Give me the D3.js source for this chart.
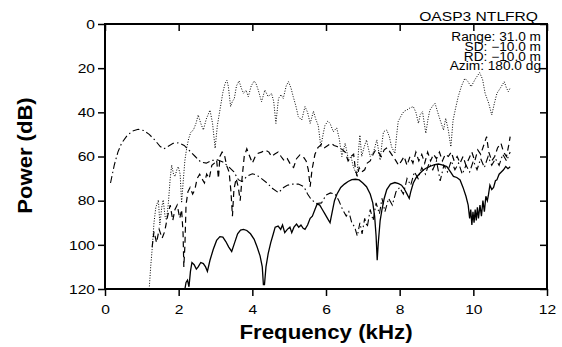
<!DOCTYPE html>
<html>
<head>
<meta charset="utf-8">
<script src="https://cdn.jsdelivr.net/npm/d3@7"></script>
<style>
	body { margin: 0; background: #fff; }
	text { font-family: 'Liberation Sans', Arial, sans-serif; fill: #000; }
</style>
</head>
<body>
<div id="chart"></div>
<script>
// frequency (kHz), power (dB)
const xTicks = [0, 2, 4, 6, 8, 10, 12];
const yTicks = [0, 20, 40, 60, 80, 100, 120];
const infoLines = ['Range: 31.0 m', 'SD: \u221210.0 m', 'RD: \u221210.0 m', 'Azim: 180.0 dg'];

const dashDot = [[0.15,72],[0.25,64],[0.35,58],[0.45,54],[0.6,50.5],[0.75,48.5],[0.9,47.7],[1.05,48.2],[1.2,50],[1.35,52.5],
	[1.5,55.5],[1.6,56.5],[1.7,55.5],[1.85,54],[2.0,53.8],[2.15,55],[2.3,57.5],[2.45,60],[2.6,62.5],[2.75,63],[2.9,61.8],
	[3.05,61.5],[3.2,62.5],[3.35,64.5],[3.5,67],[3.62,70.5],[3.72,71.4],[3.85,69],[4.0,67.8],[4.12,68.4],[4.25,70],[4.4,72],
	[4.55,74.5],[4.71,76.4],[4.85,74],[4.95,73],[5.1,72.5],[5.25,72.5],[5.4,73.7],[5.5,77],[5.6,79.5],[5.75,81.3],[5.88,81],
	[6.0,77.5],[6.12,76.5],[6.25,77],[6.35,80],[6.45,84],[6.55,87],[6.62,85],[6.7,90],[6.78,92],[6.85,96],[6.92,90],[6.98,95],
	[7.05,88],[7.12,92],[7.2,84],[7.28,89],[7.36,81],[7.45,86],[7.52,79],[7.6,85],[7.7,79],[7.8,82],[7.9,76],[8.0,74],[8.1,77],
	[8.2,70],[8.3,73],[8.4,67],[8.5,70],[8.6,65],[8.7,68],[8.8,63],[8.9,66],[9.0,62],[9.1,71],[9.2,64],[9.3,67],[9.4,62],
	[9.5,66],[9.6,63],[9.7,68],[9.8,64],[9.9,67],[10.0,62],[10.1,66],[10.2,61],[10.3,65],[10.4,60],[10.5,64],[10.6,61],
	[10.7,64],[10.8,59],[10.9,62],[11.0,58]];

const dotted = [[1.2,120],[1.24,110],[1.28,102],[1.33,90],[1.38,83],[1.45,79.7],[1.49,91],[1.54,83],[1.58,79.7],[1.63,87],
	[1.67,88.8],[1.72,81.2],[1.77,70],[1.81,63.9],[1.86,68],[1.9,69.1],[1.95,66],[1.99,64.6],[2.04,68],[2.08,81],[2.12,72],
	[2.17,61.6],[2.22,56],[2.27,52],[2.33,49],[2.4,48],[2.47,45],[2.53,41.2],[2.6,45],[2.67,48],[2.75,43],[2.85,39],[2.92,45],
	[2.99,56.3],[3.05,46],[3.12,39],[3.2,31],[3.26,26.9],[3.31,25.5],[3.35,28.4],[3.41,37.4],[3.46,35],[3.51,33.8],[3.57,28],
	[3.64,25.8],[3.7,29],[3.76,31.4],[3.83,30],[3.89,32.9],[3.97,28],[4.05,25.8],[4.1,27],[4.16,29.9],[4.25,35.2],[4.34,29.9],
	[4.43,32.9],[4.52,31.4],[4.58,35],[4.64,45],[4.71,33.7],[4.78,32],[4.84,33.7],[4.92,28],[4.98,26.1],[5.05,29],[5.11,32.9],
	[5.18,37],[5.25,42],[5.34,43.5],[5.43,37.4],[5.5,40],[5.57,45],[5.66,39.5],[5.72,43],[5.79,46],[5.86,55.6],[5.92,50],
	[5.97,46],[6.05,44],[6.11,45],[6.2,48.8],[6.29,47],[6.36,52],[6.43,60],[6.52,54],[6.58,59],[6.61,61.6],[6.68,60],
	[6.74,64.6],[6.8,67],[6.84,69],[6.88,58],[6.92,50.3],[6.97,60],[7.03,56],[7.1,52.5],[7.16,57],[7.2,60],[7.29,58],
	[7.38,52.5],[7.47,61.6],[7.52,54],[7.56,48.8],[7.65,48],[7.72,51],[7.78,55.6],[7.87,58.6],[7.92,50],[7.96,44.2],[8.05,41.2],
	[8.12,39.5],[8.19,39],[8.28,38],[8.37,37.4],[8.44,40],[8.51,45],[8.56,41],[8.62,39.7],[8.71,49.5],[8.77,43],[8.82,39],
	[8.9,37],[8.96,35.9],[9.07,42],[9.19,48],[9.25,42.7],[9.32,48],[9.39,55.6],[9.45,43.5],[9.52,38],[9.59,32.9],[9.68,28],
	[9.77,24.6],[9.85,26],[9.94,28.4],[10.05,25],[10.17,22],[10.25,25],[10.32,31.4],[10.42,36],[10.5,41.2],[10.57,36],
	[10.64,31.4],[10.73,29.1],[10.84,26.1],[10.9,29],[10.95,30.6],[11.0,29]];

const dashed = [[1.28,101],[1.33,94],[1.4,99],[1.47,93],[1.55,97],[1.62,94],[1.7,87],[1.77,82],[1.84,89],[1.9,84],[1.96,82],
	[2.03,88],[2.08,84],[2.12,95],[2.14,110],[2.17,100],[2.2,82],[2.25,76],[2.31,74],[2.38,77],[2.44,75],[2.5,70],[2.57,68],
	[2.63,70],[2.7,72],[2.76,68],[2.83,70],[2.9,64],[2.97,63],[3.03,61.6],[3.08,70],[3.12,60],[3.18,58],[3.24,59],[3.3,64],
	[3.37,67],[3.42,76],[3.46,87],[3.5,75],[3.56,70],[3.62,74],[3.67,80],[3.72,70],[3.78,60],[3.85,56.5],[3.93,60],[4.0,63],
	[4.08,60],[4.16,58.5],[4.25,58],[4.35,57],[4.45,58],[4.52,60],[4.6,59],[4.7,58],[4.78,60],[4.87,62],[4.95,61],[5.05,64],
	[5.12,65],[5.2,61],[5.29,59.3],[5.38,60],[5.46,62],[5.52,66],[5.57,73.7],[5.62,66],[5.7,59],[5.78,56],[5.88,54.5],[5.96,56],
	[6.05,55],[6.14,54],[6.22,55],[6.3,55.5],[6.38,56],[6.45,57],[6.52,58],[6.6,62],[6.68,60],[6.75,59],[6.8,66],[6.85,69],
	[6.9,65],[6.97,67],[7.05,66],[7.12,63],[7.2,62],[7.28,59],[7.35,57],[7.42,58],[7.5,60],[7.58,57],[7.66,56],[7.74,58],
	[7.82,60],[7.9,62],[7.97,64],[8.05,62],[8.12,60],[8.2,64],[8.28,60],[8.36,63],[8.44,58],[8.52,62],[8.6,59],[8.68,63],
	[8.76,58],[8.84,62],[8.92,59],[9.0,61],[9.08,58],[9.16,62],[9.24,59],[9.32,60],[9.4,58],[9.48,62],[9.56,60],[9.64,63],
	[9.72,60],[9.8,64],[9.88,61],[9.96,58],[10.04,62],[10.12,57],[10.2,59],[10.3,54],[10.36,51],[10.42,58],[10.5,62],
	[10.58,60],[10.66,56],[10.75,54],[10.82,58],[10.9,60],[10.96,55],[11.0,51]];

const solid = [[2.17,120],[2.2,117],[2.24,116],[2.28,119],[2.32,112],[2.36,108],[2.42,109],[2.48,111],[2.53,110],[2.6,108],
	[2.67,108.5],[2.73,110],[2.78,112],[2.85,107],[2.94,102],[3.03,98],[3.12,96.3],[3.2,96.5],[3.28,98.5],[3.36,101],[3.44,103],
	[3.52,99],[3.6,95],[3.68,93.3],[3.76,93],[3.85,93.5],[3.95,95],[4.05,97.5],[4.13,101],[4.21,105],[4.27,110],[4.3,118],
	[4.33,118],[4.37,110],[4.43,104],[4.5,99],[4.57,95],[4.62,92],[4.7,91.5],[4.77,93],[4.82,91],[4.88,94.5],[4.95,93],
	[5.02,92],[5.07,94.5],[5.13,92],[5.2,90.6],[5.26,92],[5.32,91],[5.38,92.5],[5.43,93],[5.5,91],[5.57,88],[5.63,87],
	[5.7,84],[5.76,81.5],[5.83,82],[5.9,84],[5.97,86],[6.04,88],[6.11,90],[6.17,85],[6.23,80],[6.3,77],[6.4,74],[6.5,72.5],
	[6.6,71.3],[6.7,70.5],[6.8,70.3],[6.9,70.6],[7.0,72],[7.1,73.7],[7.2,77],[7.27,81],[7.32,87],[7.36,96],[7.39,107],
	[7.42,99],[7.47,89],[7.52,84],[7.58,79],[7.65,75],[7.75,72.5],[7.87,71.8],[7.97,72.3],[8.05,73],[8.12,74.5],[8.19,76.7],
	[8.26,79],[8.3,76],[8.37,72],[8.45,69.5],[8.55,67.6],[8.65,66],[8.75,65],[8.85,64.3],[8.95,63.7],[9.05,63.4],[9.15,63.8],
	[9.28,64.6],[9.38,67],[9.46,69],[9.55,69.5],[9.64,70.6],[9.72,74],[9.8,78],[9.86,82],[9.9,88],[9.93,84],[9.96,91],
	[9.99,85],[10.02,90],[10.05,84],[10.08,89],[10.11,83],[10.14,88],[10.18,82],[10.22,87],[10.26,80],[10.3,85],[10.34,78],
	[10.38,80],[10.41,77.4],[10.45,73],[10.5,75],[10.55,74],[10.6,71],[10.64,70.6],[10.7,68],[10.76,67],[10.82,66],
	[10.88,64.5],[10.94,65.5],[11.0,64.6]];

const series = [
	{ name: 'dashdot', data: dashDot, dash: '7,3,1.5,3', width: 1.1 },
	{ name: 'dotted', data: dotted, dash: '1,1.6', width: 1 },
	{ name: 'dashed', data: dashed, dash: '6,4', width: 1.2 },
	{ name: 'solid', data: solid, dash: null, width: 1.3 },
];

const margin = { top: 24, right: 15, bottom: 58, left: 105 };
const width = 562 - margin.left - margin.right;
const height = 347 - margin.top - margin.bottom;

// the original labels are a bit wider than Liberation Sans, so widen them
function stretch(sel, k) {
	sel.each(function() {
		const w = this.getComputedTextLength();
		d3.select(this)
			.attr('textLength', w * k)
			.attr('lengthAdjust', 'spacingAndGlyphs');
	});
}

const svg = d3.select('#chart').append('svg')
	.attr('width', 562)
	.attr('height', 347);

const chart = svg.append('g')
	.attr('transform', `translate(${margin.left}, ${margin.top})`);

const x = d3.scaleLinear().domain([0, 12]).range([0, width]);
const y = d3.scaleLinear().domain([0, 120]).range([0, height]);

const xAxisG = chart.append('g')
	.attr('transform', `translate(0, ${height})`)
	.call(d3.axisBottom(x).tickValues(xTicks).tickSize(7).tickSizeOuter(0).tickPadding(9));
const yAxisG = chart.append('g')
	.call(d3.axisLeft(y).tickValues(yTicks).tickSize(7).tickSizeOuter(0).tickPadding(3));
chart.append('g')
	.call(d3.axisTop(x).tickValues(xTicks).tickSize(-7).tickSizeOuter(0).tickFormat(''));
chart.append('g')
	.attr('transform', `translate(${width}, 0)`)
	.call(d3.axisRight(y).tickValues(yTicks).tickSize(-7).tickSizeOuter(0).tickFormat(''));

chart.selectAll('.domain').remove();
chart.selectAll('.tick line')
	.style('stroke', '#000')
	.style('stroke-width', 1.5);
chart.selectAll('.tick text')
	.style('font-size', '13px')
	.style('font-family', "'Liberation Sans', Arial, sans-serif")
	.style('fill', '#000')
	.call(stretch, 1.2);

chart.append('defs').append('clipPath')
	.attr('id', 'plot-clip')
	.append('rect')
	.attr('width', width)
	.attr('height', height);

const line = d3.line()
	.x(d => x(d[0]))
	.y(d => y(d[1]));

chart.append('g')
	.attr('clip-path', 'url(#plot-clip)')
	.selectAll('path')
	.data(series)
	.enter()
	.append('path')
	.attr('class', d => d.name)
	.attr('d', d => line(d.data))
	.style('fill', 'none')
	.style('stroke', '#000')
	.style('stroke-width', d => d.width)
	.style('stroke-dasharray', d => d.dash);

chart.append('rect')
	.attr('width', width)
	.attr('height', height)
	.style('fill', 'none')
	.style('stroke', '#000')
	.style('stroke-width', 2);

// labels
chart.append('text')
	.attr('x', width / 2)
	.attr('y', height + 50)
	.style('font-size', '21px')
	.style('font-weight', 'bold')
	.style('text-anchor', 'middle')
	.text('Frequency (kHz)')
	.call(stretch, 1.06);

chart.append('text')
	.attr('transform', 'rotate(-90)')
	.attr('x', -height / 2 + 1)
	.attr('y', -73)
	.style('font-size', '21px')
	.style('font-weight', 'bold')
	.style('text-anchor', 'middle')
	.text('Power (dB)')
	.call(stretch, 1.05);

chart.append('text')
	.attr('x', width - 9)
	.attr('y', -3)
	.style('font-size', '13px')
	.style('text-anchor', 'end')
	.text('OASP3 NTLFRQ')
	.call(stretch, 1.2);

chart.append('g')
	.selectAll('text')
	.data(infoLines)
	.enter()
	.append('text')
	.attr('x', width - 6)
	.attr('y', (d, i) => 17 + i * 9.8)
	.style('font-size', '12px')
	.style('text-anchor', 'end')
	.text(d => d)
	.call(stretch, 1.14);
</script>
</body>
</html>
